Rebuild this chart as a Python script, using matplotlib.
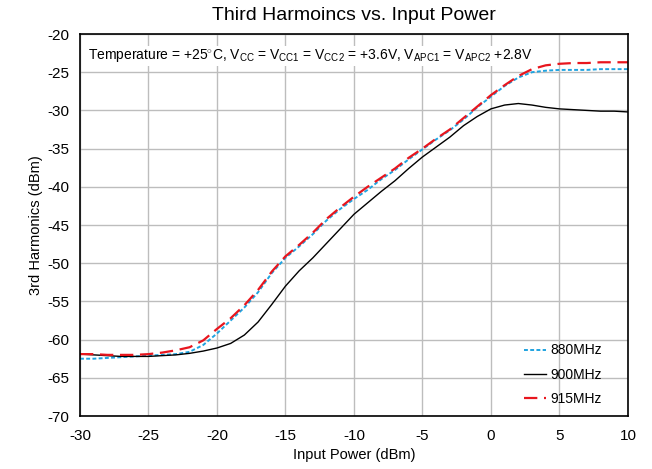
import matplotlib
matplotlib.use("Agg")
import matplotlib.pyplot as plt

plt.rcParams["font.family"] = ["Liberation Sans", "DejaVu Sans"]
plt.rcParams["mathtext.fontset"] = "custom"
plt.rcParams["mathtext.rm"] = "Liberation Sans"
plt.rcParams["mathtext.it"] = "Liberation Sans"
plt.rcParams["axes.unicode_minus"] = False

# input power, dBm
power = list(range(-30, 11))

h3_880 = [-62.5, -62.5, -62.4, -62.3, -62.2, -62.1, -62.0, -61.9, -61.6, -60.7,
          -59.2, -57.5, -55.8, -53.8, -51.3, -49.3, -47.8, -46.2, -44.4, -42.9,
          -41.6, -40.4, -39.0, -37.8, -36.4, -35.1, -33.8, -32.6, -31.2, -29.6,
          -28.2, -26.8, -25.7, -25.0, -24.8, -24.7, -24.7, -24.7, -24.6, -24.6,
          -24.6]
h3_900 = [-61.9, -62.0, -62.1, -62.2, -62.2, -62.2, -62.1, -62.0, -61.8, -61.5,
          -61.1, -60.5, -59.4, -57.7, -55.4, -53.0, -51.0, -49.3, -47.4, -45.5,
          -43.6, -42.1, -40.6, -39.2, -37.6, -36.1, -34.8, -33.5, -32.0, -30.8,
          -29.8, -29.3, -29.1, -29.3, -29.6, -29.8, -29.9, -30.0, -30.1, -30.1,
          -30.2]
h3_915 = [-61.9, -61.9, -62.0, -62.0, -62.0, -61.9, -61.7, -61.4, -61.0, -60.1,
          -58.6, -57.2, -55.5, -53.5, -51.1, -49.1, -47.6, -46.0, -44.2, -42.7,
          -41.3, -40.0, -38.8, -37.6, -36.2, -35.0, -33.7, -32.5, -31.0, -29.5,
          -28.0, -26.7, -25.5, -24.6, -24.1, -23.9, -23.8, -23.8, -23.7, -23.7,
          -23.7]

fig = plt.figure(figsize=(6.52, 4.69), dpi=100)
ax = fig.add_axes([0.1227, 0.113, 0.8403, 0.8145])

ax.plot(power, h3_880, color="#1FA3E0", linestyle=(0, (2, 1.2)), linewidth=1.4, label="880MHz")
ax.plot(power, h3_900, color="black", linestyle="-", linewidth=1.0, label="900MHz")
ax.plot(power, h3_915, color="#E8161E", linestyle=(0, (6, 3)), linewidth=1.6, label="915MHz")

ax.set_xlim(-30, 10)
ax.set_ylim(-70, -20)
ax.set_xticks(range(-30, 11, 5))
ax.set_yticks(range(-70, -19, 5))
ax.grid(True, color="#BDBDBD", linewidth=1.0)
ax.set_axisbelow(True)
ax.tick_params(length=0, labelsize=11)
ax.tick_params(axis="y", pad=8)
ax.tick_params(axis="x", pad=9)
for s in ax.spines.values():
    s.set_linewidth(1.2)

ax.set_title("Third Harmoincs vs. Input Power", fontsize=14, pad=10)
ax.set_xlabel("Input Power (dBm)", fontsize=10.5, labelpad=4)
ax.set_ylabel("3rd Harmonics (dBm)", fontsize=10.5, labelpad=3)

ax.text(0.015, 0.965,
        r"Temperature = +25$^{\circ}$C, V$_{\rm CC}$ = V$_{\rm CC1}$ = V$_{\rm CC2}$ = +3.6V, "
        r"V$_{\rm APC1}$ = V$_{\rm APC2}$ +2.8V",
        transform=ax.transAxes, ha="left", va="top", fontsize=10,
        bbox=dict(facecolor="white", edgecolor="none", pad=1))

ax.legend(loc="lower right", bbox_to_anchor=(0.97, 0.0), frameon=False, fontsize=10,
          handlelength=1.6, handletextpad=0.3, labelspacing=0.75, borderaxespad=0.3)

fig.savefig("out.png", dpi=100)
